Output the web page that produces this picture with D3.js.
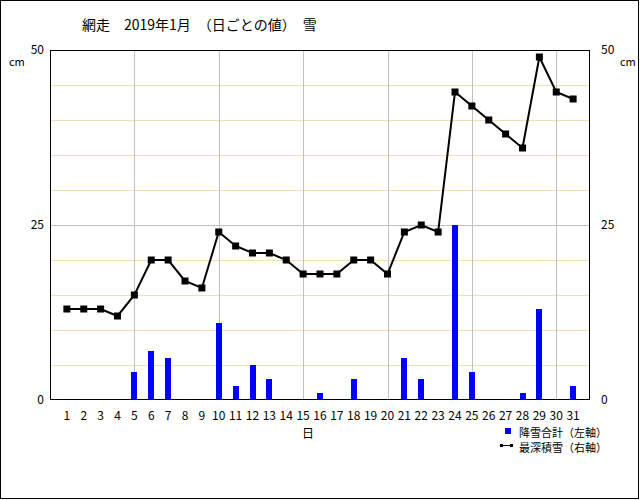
<!DOCTYPE html>
<html><head><meta charset="utf-8">
<script src="https://cdn.jsdelivr.net/npm/d3@7"></script>
<style>body{margin:0;background:#fff}svg{display:block}text{font-family:"Noto Sans CJK JP","DejaVu Sans",sans-serif;fill:#000}</style>
</head><body>
<script>
const days = d3.range(1, 32);
const snowfall = [0,0,0,0,4,7,6,0,0,11,2,5,3,0,0,1,0,3,0,0,6,3,0,25,4,0,0,1,13,0,2];
const depth = [13,13,13,12,15,20,20,17,16,24,22,21,21,20,18,18,18,20,20,18,24,25,24,44,42,40,38,36,49,44,43];
const yTicks = [0,25,50];
const title = "網走　2019年1月　（日ごとの値）　雪";

const W = 640, H = 500;
const svg = d3.select("body").append("svg").attr("width", W).attr("height", H);
svg.append("rect").attr("x",0.5).attr("y",0.5).attr("width",638).attr("height",498).attr("fill","#fff").attr("stroke","#000");

const x = d3.scaleLinear().domain([0, 32]).range([50, 590]);
const yL = d3.scaleLinear().domain([0, 50]).range([400, 50]);
const yR = d3.scaleLinear().domain([0, 50]).range([400, 50]);

// grid
const g = svg.append("g");
g.selectAll(".hg").data(d3.range(5, 50, 5)).join("line")
  .attr("x1", 50).attr("x2", 590)
  .attr("y1", d => Math.round(yL(d)) + 0.5).attr("y2", d => Math.round(yL(d)) + 0.5)
  .attr("stroke", d => d === 25 ? "#c0c0c0" : "#f5deb3").attr("stroke-width", 1);
g.selectAll(".vg").data([5,10,15,20,25,30]).join("line")
  .attr("y1", 50).attr("y2", 400)
  .attr("x1", d => Math.round(x(d)) + 0.5).attr("x2", d => Math.round(x(d)) + 0.5)
  .attr("stroke", "#c0c0c0");

// bars
svg.selectAll(".bar").data(days).join("rect")
  .attr("x", d => Math.round(x(d)) - 3).attr("width", 6)
  .attr("y", (d,i) => yL(snowfall[i])).attr("height", (d,i) => 400 - yL(snowfall[i]))
  .attr("fill", "#0000ff");

// line
const line = d3.line().x((d,i) => x(days[i])).y(d => yR(d));
svg.append("path").attr("d", line(depth)).attr("fill","none").attr("stroke","#000").attr("stroke-width",2);
svg.selectAll(".mk").data(depth).join("rect")
  .attr("x", (d,i) => x(days[i]) - 3.5).attr("y", d => yR(d) - 3.5)
  .attr("width", 7).attr("height", 7).attr("fill","#000");

// frame
svg.append("rect").attr("x",50.5).attr("y",50.5).attr("width",539).attr("height",349)
  .attr("fill","none").attr("stroke","#000");

// axes labels
svg.selectAll(".yl").data(yTicks).join("text")
  .attr("x", 44).attr("y", d => yL(d) + 4).attr("text-anchor","end").attr("font-size",12).text(d => d);
svg.selectAll(".yr").data(yTicks).join("text")
  .attr("x", 601).attr("y", d => yR(d) + 4).attr("text-anchor","start").attr("font-size",12).text(d => d);
svg.append("text").attr("x",9).attr("y",66).attr("font-size",11).text("cm");
svg.append("text").attr("x",620).attr("y",66).attr("font-size",11).text("cm");

svg.selectAll(".xl").data(days).join("text")
  .attr("x", d => x(d)).attr("y", 420).attr("text-anchor","middle").attr("font-size",12).text(d => d);
svg.append("text").attr("x",308).attr("y",438).attr("text-anchor","middle").attr("font-size",12).text("日");

svg.append("text").attr("x",82).attr("y",30).attr("font-size",14).text(title);

// legend
svg.append("rect").attr("x",505).attr("y",428).attr("width",6).attr("height",6).attr("fill","#0000ff");
svg.append("text").attr("x",519).attr("y",437).attr("font-size",11).text("降雪合計（左軸）");
svg.append("line").attr("x1",500).attr("x2",513).attr("y1",445.5).attr("y2",445.5).attr("stroke","#000").attr("stroke-width",1);
svg.append("rect").attr("x",500).attr("y",444).attr("width",3).attr("height",3).attr("fill","#000");
svg.append("rect").attr("x",510).attr("y",444).attr("width",3).attr("height",3).attr("fill","#000");
svg.append("text").attr("x",519).attr("y",452).attr("font-size",11).text("最深積雪（右軸）");
</script>
</body></html>
